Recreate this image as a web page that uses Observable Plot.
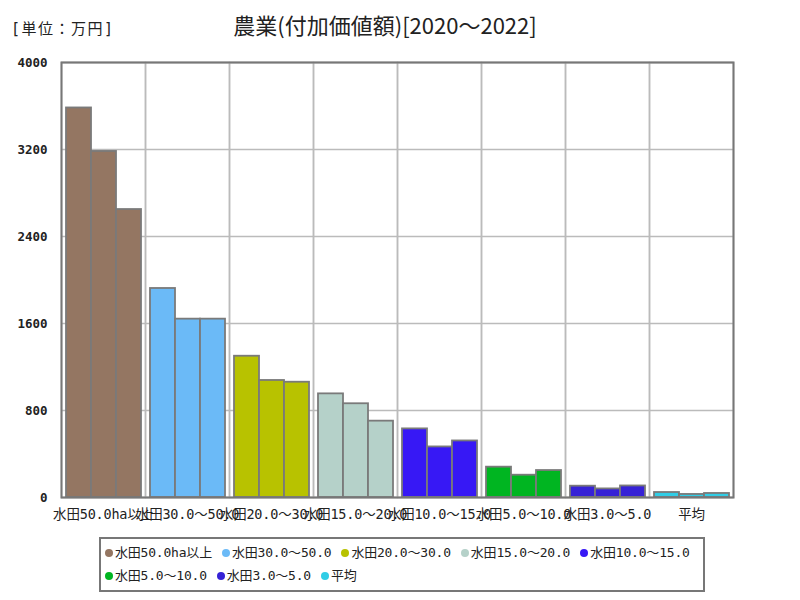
<!DOCTYPE html>
<html>
<head>
<meta charset="utf-8">
<script src="https://cdn.jsdelivr.net/npm/d3@7"></script>
<script src="https://cdn.jsdelivr.net/npm/@observablehq/plot@0.6"></script>
<style>
  body { margin: 0; background: #fff; font-family: "Noto Sans CJK JP", sans-serif; }
  #wrap { position: relative; width: 800px; height: 600px; }
  #unit { position: absolute; left: 11px; top: 17px; font-size: 15px; letter-spacing: 1.5px; color: #222; font-family: "DejaVu Sans Mono", "Noto Sans CJK JP", sans-serif; }
  #title { position: absolute; left: 0; width: 770px; text-align: center; top: 8px; font-size: 22px; color: #222; }
  #chart { position: absolute; left: 0; top: 45px; }
  #legend { position: absolute; left: 99px; top: 537px; width: 598px; height: 49px; border: 2px solid #777;
            padding: 2px 0 0 4px; box-sizing: content-box; font-size: 13px; color: #222; line-height: 23px;
            font-family: "DejaVu Sans Mono", "Noto Sans CJK JP", sans-serif; letter-spacing: -0.2px; }
  #legend span.item { display: inline-block; margin-right: 10px; white-space: nowrap; }
  #legend span.dot { display: inline-block; width: 8px; height: 8px; border-radius: 50%; margin-right: 2px; vertical-align: 0px; }
</style>
</head>
<body>
<div id="wrap">
  <div id="unit">[単位：万円]</div>
  <div id="title">農業(付加価値額)[2020～2022]</div>
  <div id="chart"></div>
  <div id="legend"></div>
</div>
<script>
const groups = ["水田50.0ha以上", "水田30.0～50.0", "水田20.0～30.0", "水田15.0～20.0", "水田10.0～15.0", "水田5.0～10.0", "水田3.0～5.0", "平均"];
const years = [2020, 2021, 2022];
const v2020 = [3582, 1922, 1299, 953, 631, 279, 104, 46];
const v2021 = [3182, 1640, 1076, 862, 465, 205, 79, 28];
const v2022 = [2648, 1640, 1060, 702, 520, 248, 106, 37];
const colors = ["#947662", "#6bbaf7", "#b8c200", "#b5d1c9", "#3718f5", "#00b521", "#3622d6", "#30cde6"];
const yTicks = [0, 800, 1600, 2400, 3200, 4000];

const series = [v2020, v2021, v2022];
const data = [];
groups.forEach((g, i) => {
  years.forEach((y, k) => data.push({group: g, year: y, value: series[k][i]}));
});

const mono = "DejaVu Sans Mono, Noto Sans CJK JP, sans-serif";
const chart = Plot.plot({
  width: 800,
  height: 490,
  marginTop: 17,
  marginBottom: 38,
  marginLeft: 59,
  marginRight: 66,
  style: {fontFamily: mono, fontSize: "13.5px", color: "#222", background: "transparent"},
  fx: {domain: groups, padding: 0, label: null, axis: "bottom", tickSize: 0, tickPadding: 12},
  x: {domain: years, paddingInner: 0, paddingOuter: 0.15, axis: null},
  y: {domain: [0, 4000], ticks: yTicks, label: null, tickSize: 0, tickPadding: 14, tickFormat: d => String(d)},
  color: {domain: groups, range: colors},
  marks: [
    Plot.gridY(yTicks, {stroke: "#bbb", strokeOpacity: 1, strokeWidth: 1.5}),
    Plot.frame({stroke: "#bbb", strokeWidth: 1.5}),
    Plot.barY(data, {fx: "group", x: "year", y: "value", fill: "group", stroke: "#7a7a7a", strokeWidth: 1.8, inset: 0}),
    Plot.frame({stroke: "#777", strokeWidth: 2, facet: "super"})
  ]
});
document.getElementById("chart").appendChild(chart);
d3.select(chart).selectAll("[aria-label='y-axis tick label']").attr("font-size", 12.5).attr("font-weight", "bold");
d3.select(chart).selectAll("[aria-label='fx-axis tick label']").attr("letter-spacing", "-0.2px");

const legend = d3.select("#legend");
groups.forEach((g, i) => {
  const it = legend.append("span").attr("class", "item");
  it.append("span").attr("class", "dot").style("background", colors[i]);
  it.append("span").text(g);
});
</script>
</body>
</html>
